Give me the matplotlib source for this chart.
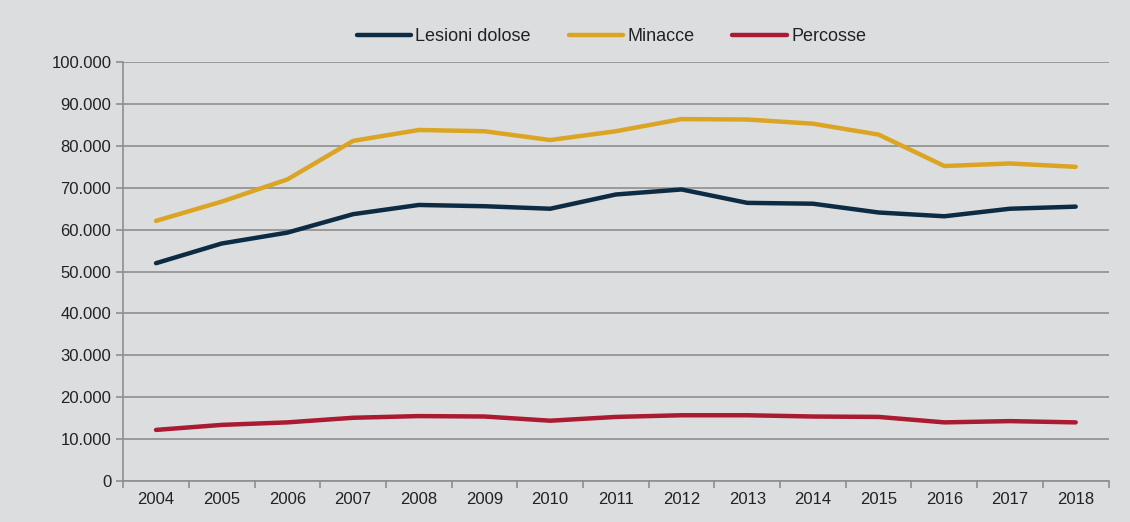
import numpy as np
import matplotlib.pyplot as plt
from matplotlib.ticker import FuncFormatter, FixedLocator

plt.rcParams['font.family'] = ['Liberation Sans', 'DejaVu Sans']

years = ["2004", "2005", "2006", "2007", "2008", "2009", "2010", "2011",
         "2012", "2013", "2014", "2015", "2016", "2017", "2018"]
lesioni = [52000, 56700, 59300, 63700, 65900, 65600, 65000, 68400,
           69600, 66400, 66200, 64100, 63200, 65000, 65500]
minacce = [62100, 66700, 72000, 81200, 83800, 83500, 81400, 83500,
           86400, 86300, 85300, 82700, 75200, 75800, 75000]
percosse = [12200, 13400, 14000, 15100, 15500, 15400, 14400, 15300,
            15700, 15700, 15400, 15300, 14000, 14300, 14000]

bg = "#dcdddf"
fig = plt.figure(figsize=(11.3, 5.22), dpi=100, facecolor=bg)
ax = fig.add_axes([0.109, 0.0785, 0.872, 0.8025], facecolor=bg)

x = np.arange(len(years))
ax.plot(x, lesioni, color="#0d2c44", lw=3.2, label="Lesioni dolose", solid_capstyle="round")
ax.plot(x, minacce, color="#dba423", lw=3.2, label="Minacce", solid_capstyle="round")
ax.plot(x, percosse, color="#aa1a31", lw=3.2, label="Percosse", solid_capstyle="round")

ax.set_xlim(-0.5, len(years) - 0.5)
ax.set_ylim(0, 100000)
ax.set_yticks(np.arange(0, 100001, 10000))
ax.yaxis.set_major_formatter(FuncFormatter(lambda v, p: f"{int(v):,}".replace(",", ".")))
ax.grid(axis="y", color="#8e8e8e", lw=1.2)
ax.set_axisbelow(True)

ax.set_xticks(x)
ax.set_xticklabels(years)
ax.xaxis.set_minor_locator(FixedLocator(np.arange(-0.5, len(years), 1)))
ax.tick_params(axis="x", which="major", length=0, pad=8, labelsize=12, colors="#222222")
ax.tick_params(axis="x", which="minor", length=5, color="#8e8e8e", width=1.2)
ax.tick_params(axis="y", length=5, color="#8e8e8e", width=1.2, labelsize=12, labelcolor="#222222")

for s in ["top", "right"]:
    ax.spines[s].set_visible(False)
for s in ["left", "bottom"]:
    ax.spines[s].set_color("#8e8e8e")
    ax.spines[s].set_linewidth(1.2)

leg = fig.legend(loc="center", bbox_to_anchor=(0.541, 0.93), ncol=3, frameon=False,
                 fontsize=13, handlelength=3.0, handletextpad=0.25, columnspacing=2.1)
for t in leg.get_texts():
    t.set_color("#222222")

fig.savefig("out.png", dpi=100, facecolor=bg)
